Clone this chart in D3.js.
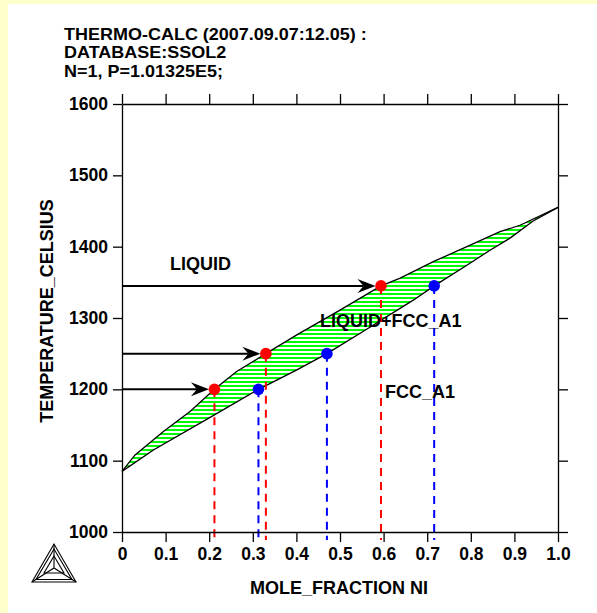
<!DOCTYPE html>
<html>
<head>
<meta charset="utf-8">
<script src="https://cdn.jsdelivr.net/npm/d3@7"></script>
<style>
  body { margin: 0; background: #ffffcc; }
  svg text { font-family: "Liberation Sans", Arial, sans-serif; font-weight: bold; fill: #000; }
</style>
</head>
<body>
<div id="chart"></div>
<script>
// header lines
const headerLines = ["THERMO-CALC (2007.09.07:12.05) :", "DATABASE:SSOL2", "N=1, P=1.01325E5;"];

// axis ticks
const xTicks = [0, 0.1, 0.2, 0.3, 0.4, 0.5, 0.6, 0.7, 0.8, 0.9, 1.0];
const xTickLabels = ["0", "0.1", "0.2", "0.3", "0.4", "0.5", "0.6", "0.7", "0.8", "0.9", "1.0"];
const yTicks = [1000, 1100, 1200, 1300, 1400, 1500, 1600];

// liquidus (upper boundary)
const liqX = [0, 0.03, 0.095, 0.156, 0.212, 0.263, 0.33, 0.4, 0.5, 0.594, 0.638, 0.714, 0.791, 0.867, 0.913, 1];
const liqT = [1085, 1108, 1141, 1169, 1200, 1225, 1250, 1276, 1311, 1345, 1356, 1379, 1400, 1421, 1430, 1455];

// solidus (lower boundary)
const solX = [0, 0.072, 0.2, 0.313, 0.4, 0.47, 0.55, 0.668, 0.716, 0.791, 0.844, 0.89, 0.943, 1];
const solT = [1085, 1115, 1160, 1200, 1227, 1250, 1280, 1325, 1345, 1374, 1395, 1412, 1436, 1455];

// tie-line temperatures and the compositions read at them
const tieT = [1200, 1250, 1345];
const liqDotX = [0.212, 0.33, 0.594];
const solDotX = [0.313, 0.47, 0.716];

// phase labels
const phaseLabels = ["LIQUID", "LIQUID+FCC_A1", "FCC_A1"];
const phaseX = [0.11, 0.454, 0.603];
const phaseT = [1367, 1287, 1188];

const W = 597, H = 613;
const svg = d3.select("#chart").append("svg").attr("width", W).attr("height", H);

svg.append("rect").attr("width", W).attr("height", H).attr("fill", "#ffffcc");
svg.append("rect").attr("x", 8).attr("y", 4).attr("width", W - 8).attr("height", H - 4).attr("fill", "#fff");

const x = d3.scaleLinear().domain([0, 1]).range([122, 558]);
const y = d3.scaleLinear().domain([1000, 1600]).range([532, 104]);

// hatch pattern for the two-phase region
const defs = svg.append("defs");
const pat = defs.append("pattern")
  .attr("id", "hatch")
  .attr("patternUnits", "userSpaceOnUse")
  .attr("width", 8).attr("height", 4);
pat.append("rect").attr("width", 8).attr("height", 4).attr("fill", "#fff");
pat.append("rect").attr("y", 1).attr("width", 8).attr("height", 2).attr("fill", "#00ff00");

// header (glyphs a bit wider than tall, as in the original output)
svg.append("g").selectAll("text").data(headerLines).enter().append("text")
  .attr("x", 64)
  .attr("y", (d, i) => 39.5 + i * 18.5)
  .attr("font-size", 16.5)
  .text(d => d)
  .each(function () {
    const len = this.getComputedTextLength();
    d3.select(this).attr("textLength", len * 1.09).attr("lengthAdjust", "spacingAndGlyphs");
  });

const liq = liqX.map((v, i) => [v, liqT[i]]);
const sol = solX.map((v, i) => [v, solT[i]]);

const line = d3.line().x(d => x(d[0])).y(d => y(d[1]));

// region between curves
svg.append("path")
  .attr("d", line(liq.concat(sol.slice().reverse())) + "Z")
  .attr("fill", "url(#hatch)")
  .attr("stroke", "none");

svg.append("path").attr("d", line(liq)).attr("fill", "none").attr("stroke", "#000").attr("stroke-width", 1.3);
svg.append("path").attr("d", line(sol)).attr("fill", "none").attr("stroke", "#000").attr("stroke-width", 1.3);

// dashed drop lines
const drops = liqDotX.map((v, i) => ({ x: v, t: tieT[i], c: "#ff0000" }))
  .concat(solDotX.map((v, i) => ({ x: v, t: tieT[i], c: "#0000ff" })));

svg.append("g").selectAll("line").data(drops).enter().append("line")
  .attr("x1", d => x(d.x)).attr("x2", d => x(d.x))
  .attr("y1", d => y(d.t)).attr("y2", y(1000) + 8)
  .attr("stroke", d => d.c)
  .attr("stroke-width", 2)
  .attr("stroke-dasharray", "8,6");

// arrows from the axis to the liquidus points
const arrows = svg.append("g");
tieT.forEach((t, i) => {
  const tip = x(liqDotX[i]) - 5.5;
  const ty = y(t);
  arrows.append("line")
    .attr("x1", x(0)).attr("x2", tip - 12)
    .attr("y1", ty).attr("y2", ty)
    .attr("stroke", "#000").attr("stroke-width", 2);
  arrows.append("path")
    .attr("d", `M${tip},${ty} L${tip - 18},${ty - 7} L${tip - 12},${ty} L${tip - 18},${ty + 7} Z`)
    .attr("fill", "#000");
});

// dots
svg.append("g").selectAll("circle").data(drops).enter().append("circle")
  .attr("cx", d => x(d.x)).attr("cy", d => y(d.t))
  .attr("r", 5.8)
  .attr("fill", d => d.c);

// phase labels
svg.append("g").selectAll("text").data(phaseLabels).enter().append("text")
  .attr("x", (d, i) => x(phaseX[i]))
  .attr("y", (d, i) => y(phaseT[i]))
  .attr("font-size", 18)
  .text(d => d);

// axes
function styleAxis(g) {
  g.selectAll("path.domain").attr("stroke", "#000").attr("stroke-width", 1.3);
  g.selectAll(".tick line").attr("stroke", "#000").attr("stroke-width", 1.3);
  g.selectAll("text").attr("font-size", 17.5).attr("font-family", null).attr("fill", "#000");
}

svg.append("g").attr("transform", `translate(0,${y(1000)})`)
  .call(d3.axisBottom(x).tickValues(xTicks).tickSize(10).tickSizeOuter(0).tickPadding(6)
    .tickFormat((d, i) => xTickLabels[i]))
  .call(styleAxis);

svg.append("g").attr("transform", `translate(0,${y(1600)})`)
  .call(d3.axisTop(x).tickValues(xTicks).tickSize(10).tickSizeOuter(0).tickFormat(""))
  .call(styleAxis);

svg.append("g").attr("transform", `translate(${x(0)},0)`)
  .call(d3.axisLeft(y).tickValues(yTicks).tickSize(9).tickSizeOuter(0).tickPadding(5)
    .tickFormat(d3.format("d")))
  .call(styleAxis);

svg.append("g").attr("transform", `translate(${x(1)},0)`)
  .call(d3.axisRight(y).tickValues(yTicks).tickSize(10).tickSizeOuter(0).tickFormat(""))
  .call(styleAxis);

// axis titles
svg.append("text")
  .attr("x", 250).attr("y", 594)
  .attr("font-size", 18)
  .text("MOLE_FRACTION NI");

svg.append("text")
  .attr("transform", "translate(53,311) rotate(-90)")
  .attr("text-anchor", "middle")
  .attr("font-size", 18)
  .text("TEMPERATURE_CELSIUS");

// Thermo-Calc logo
const logo = svg.append("g").attr("fill", "none").attr("stroke", "#000").attr("stroke-width", 1.1);
logo.append("path").attr("d", "M54,544 L32,582 L76,582 Z");
logo.append("path").attr("d", "M54,549 L36,579.5 L72,579.5 Z");
logo.append("path").attr("d", "M54,544 L54,568 M32,582 L54,568 L76,582");
logo.append("path").attr("d", "M54,556 L44,573 L64,573 Z");
</script>
</body>
</html>
